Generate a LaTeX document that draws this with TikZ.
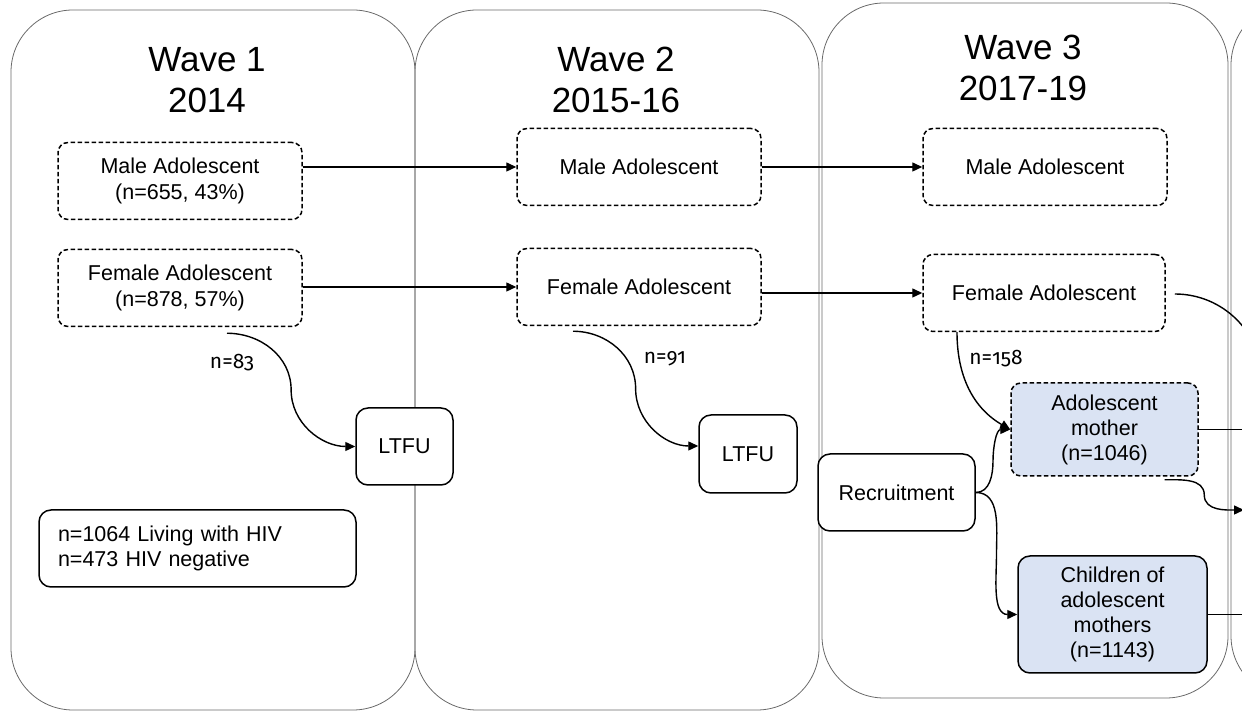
\documentclass[tikz,border=0pt]{standalone}
\usepackage{fontspec}
\setmainfont{Liberation Sans}
\newfontfamily\countfont[Numbers=OldStyle]{Fira Sans}
\usetikzlibrary{arrows.meta,calc}
\definecolor{panelGrey}{RGB}{105,105,105}
\definecolor{motherBlue}{RGB}{218,227,243}

\begin{document}
\begin{tikzpicture}[x=1pt,y=1pt,
    panel/.style={draw=panelGrey,line width=0.8pt,rounded corners=62pt},
    wavehead/.style={align=center,font=\fontsize{35}{41}\selectfont},
    cohort/.style={draw,dash pattern=on 4.5pt off 2.5pt,line width=1.5pt,rounded corners=10pt,
      minimum width=244pt,minimum height=77pt,inner sep=0pt,align=center,
      font=\fontsize{21.5}{26}\selectfont},
    solidbox/.style={draw,line width=1.5pt,rounded corners=12pt,fill=white,inner sep=0pt,
      align=center,font=\fontsize{21.5}{25}\selectfont},
    count/.style={font=\countfont\fontsize{21}{25}\selectfont,anchor=base},
    arr/.style={-{Triangle[length=10pt,width=9pt]},line width=1.4pt},
    link/.style={line width=1.4pt}
  ]
  \useasboundingbox (0,0) rectangle (1242,711);
  \clip (0,0) rectangle (1242,711);

  % wave panels
  \draw[panel] (11,1) rectangle (415,701);
  \draw[panel] (415,1) rectangle (819,701);
  \draw[panel] (822,13) rectangle (1228,708);
  \draw[panel] (1231,13) rectangle (1640,708);

  \node[wavehead] (h1) at (207,631) {Wave 1\\2014};
  \node[wavehead] (h2) at (616,631) {Wave 2\\2015-16};
  \node[wavehead] (h3) at (1023,643) {Wave 3\\2017-19};

  % adolescents followed up
  \node[cohort] (mw1) at (180,530) {Male Adolescent\\(n=655, 43\%)};
  \node[cohort] (fw1) at (180,423) {Female Adolescent\\(n=878, 57\%)};
  \node[cohort] (mw2) at (639,544) {Male Adolescent};
  \node[cohort] (fw2) at (639,424) {Female Adolescent};
  \node[cohort] (mw3) at (1045,544) {Male Adolescent};
  \node[cohort,minimum width=242pt] (fw3) at (1044,418) {Female Adolescent};

  \node[solidbox,minimum width=97pt,minimum height=77pt] (ltfu1) at (404.5,264.5) {LTFU};
  \node[solidbox,minimum width=98pt,minimum height=78pt] (ltfu2) at (748,257) {LTFU};
  \node[solidbox,align=left,text width=279pt,minimum width=317pt,minimum height=77pt]
    (hiv) at (197.5,162.5) {n=1064 Living with HIV\\n=473 HIV negative};

  % mothers and children
  \node[solidbox,minimum width=157pt,minimum height=77pt] (recruit) at (896.5,218.5) {Recruitment};
  \node[cohort,fill=motherBlue,minimum width=187pt,minimum height=93pt,
    font=\fontsize{21.5}{25}\selectfont] (mother) at (1104.5,281.5) {Adolescent\\mother\\(n=1046)};
  \node[solidbox,fill=motherBlue,minimum width=189pt,minimum height=117pt]
    (children) at (1112.5,96.5) {Children of\\adolescent\\mothers\\(n=1143)};

  \coordinate (rim) at (1250,0);
  \coordinate (exitF) at (1262,330);
  \coordinate (exitM) at (1244,201);

  \draw[arr] (mw1.east |- mw2.west) -- (mw2.west);
  \draw[arr] (mw2.east) -- (mw3.west);
  \draw[arr] (fw1.east |- fw2.west) -- (fw2.west);
  \draw[arr] (fw2.east |- fw3.west) -- (fw3.west);

  % losses to follow-up
  \coordinate (d1) at ([xshift=47pt,yshift=-6pt]fw1.south);
  \draw[arr] (d1) to[out=0,in=90] ($(d1)!.5!(ltfu1.west)$) to[out=-90,in=180] (ltfu1.west);
  \coordinate (d2) at ([xshift=-66pt,yshift=-5pt]fw2.south);
  \coordinate (l2) at ([yshift=8pt]ltfu2.west);
  \draw[arr] (d2) to[out=0,in=90] ($(d2)!.5!(l2)$) to[out=-90,in=180] (l2);
  \node[count] (n83) at (232,342) {n=83};
  \node[count] (n91) at (665,347) {n=91};
  \node[count] (n158) at (996,346) {n=158};

  % wave 3 branches
  \draw[arr] ([xshift=-87pt]fw3.south) to[out=-90,in=150] (mother.west);
  \draw[arr] (recruit.east) to[out=0,in=-90] ($(recruit.east)!.5!(mother.west)$)
    to[out=90,in=180] (mother.west);
  \draw[arr] (recruit.east) to[out=0,in=90] ($(recruit.east)!.5!(children.west)$)
    to[out=-90,in=180] (children.west);

  % links into the next wave
  \draw[link] ([xshift=9pt,yshift=-1pt]fw3.east) to[out=0,in=90] (exitF);
  \draw[link] (mother.east) -- (mother.east -| rim);
  \draw[link] (children.east) -- (children.east -| rim);
  \coordinate (d3) at ([xshift=60pt,yshift=-3pt]mother.south);
  \draw[arr] (d3) to[out=0,in=90] ($(d3)!.5!(exitM)$) to[out=-90,in=180] (exitM);
\end{tikzpicture}
\end{document}
